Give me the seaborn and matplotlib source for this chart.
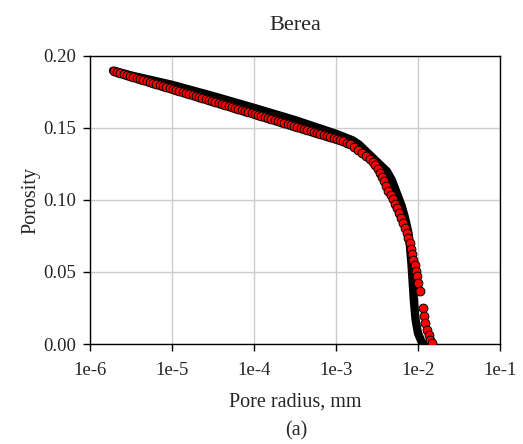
import numpy as np
import pandas as pd
import matplotlib
matplotlib.use("Agg")
import matplotlib.pyplot as plt
import seaborn as sns

# ---- data (log10 of pore radius in mm, porosity) ----
black_logr = [-5.72, -5.50, -5.00, -4.50, -4.00, -3.50, -3.00, -2.80, -2.72, -2.60,
              -2.50, -2.38, -2.32, -2.26, -2.20, -2.16, -2.12, -2.10, -2.08, -2.065,
              -2.05, -2.03, -2.00, -1.96, -1.93]
black_por = [0.1898, 0.1865, 0.1800, 0.1722, 0.1640, 0.1555, 0.1460, 0.1415, 0.1385, 0.1320,
             0.1265, 0.1200, 0.1140, 0.1050, 0.0960, 0.0880, 0.0780, 0.0690, 0.0560, 0.0430,
             0.0300, 0.0170, 0.0075, 0.0020, 0.0000]

red_logr = [-5.71, -5.67, -5.63, -5.59, -5.55, -5.51, -5.47, -5.43, -5.39, -5.35,
            -5.31, -5.27, -5.23, -5.19, -5.15, -5.11, -5.07, -5.03, -4.99, -4.95,
            -4.91, -4.87, -4.83, -4.79, -4.75, -4.71, -4.67, -4.63, -4.59, -4.55,
            -4.51, -4.47, -4.43, -4.39, -4.35, -4.31, -4.27, -4.23, -4.19, -4.15,
            -4.11, -4.07, -4.03, -3.99, -3.95, -3.91, -3.87, -3.83, -3.79, -3.75,
            -3.71, -3.67, -3.63, -3.59, -3.55, -3.51, -3.47, -3.43, -3.39, -3.35,
            -3.31, -3.27, -3.23, -3.19, -3.15, -3.11, -3.07, -3.03, -2.99, -2.95,
            -2.91, -2.87, -2.83,
            -2.78, -2.73, -2.68, -2.63, -2.59, -2.55, -2.52, -2.49, -2.46, -2.435,
            -2.41, -2.385, -2.36, -2.335, -2.31, -2.285, -2.26, -2.235, -2.21, -2.185,
            -2.16, -2.14, -2.12, -2.10, -2.085, -2.07, -2.055, -2.04, -2.025, -2.01,
            -1.995, -1.975, -1.945, -1.93, -1.915, -1.895, -1.87, -1.85, -1.835]
red_por = [0.1898, 0.1890, 0.1883, 0.1876, 0.1869, 0.1862, 0.1855, 0.1848, 0.1841, 0.1834,
           0.1827, 0.1820, 0.1813, 0.1806, 0.1799, 0.1792, 0.1785, 0.1778, 0.1771, 0.1764,
           0.1757, 0.1750, 0.1743, 0.1736, 0.1729, 0.1722, 0.1715, 0.1708, 0.1701, 0.1694,
           0.1687, 0.1680, 0.1673, 0.1666, 0.1659, 0.1652, 0.1645, 0.1638, 0.1631, 0.1624,
           0.1617, 0.1610, 0.1603, 0.1596, 0.1589, 0.1582, 0.1575, 0.1568, 0.1561, 0.1554,
           0.1547, 0.1540, 0.1533, 0.1526, 0.1519, 0.1512, 0.1505, 0.1498, 0.1491, 0.1484,
           0.1477, 0.1470, 0.1463, 0.1456, 0.1449, 0.1442, 0.1435, 0.1428, 0.1421, 0.1414,
           0.1407, 0.1399, 0.1390,
           0.1370, 0.1350, 0.1328, 0.1305, 0.1285, 0.1262, 0.1242, 0.1218, 0.1190, 0.1160,
           0.1130, 0.1095, 0.1065, 0.1035, 0.1005, 0.0975, 0.0945, 0.0912, 0.0878, 0.0843,
           0.0808, 0.0772, 0.0735, 0.0698, 0.0660, 0.0622, 0.0585, 0.0548, 0.0510, 0.0470,
           0.0425, 0.0365, 0.0250, 0.0195, 0.0145, 0.0095, 0.0060, 0.0030, 0.0005]

x_ticks = [1e-6, 1e-5, 1e-4, 1e-3, 1e-2, 1e-1]
x_tick_labels = ["1e-6", "1e-5", "1e-4", "1e-3", "1e-2", "1e-1"]
y_ticks = [0.00, 0.05, 0.10, 0.15, 0.20]
y_tick_labels = ["0.00", "0.05", "0.10", "0.15", "0.20"]

title = "Berea"
x_label = "Pore radius, mm"
y_label = "Porosity"
caption = "(a)"

# ---- styling ----
sns.set_style("white")
plt.rcParams["font.family"] = ["Liberation Serif", "DejaVu Serif"]

black_df = pd.DataFrame({"r": 10 ** np.array(black_logr), "phi": black_por})
red_df = pd.DataFrame({"r": 10 ** np.array(red_logr), "phi": red_por})

fig = plt.figure(figsize=(5.23, 4.44), dpi=100)
ax = fig.add_axes([90 / 523, 100 / 444, 410 / 523, 288 / 444])

sns.lineplot(data=black_df, x="r", y="phi", ax=ax, color="black", lw=6,
             sort=False, solid_capstyle="round", solid_joinstyle="round", zorder=3)
sns.scatterplot(data=red_df, x="r", y="phi", ax=ax, color="#ff0000", edgecolor="black",
                linewidth=0.7, s=40, zorder=4)

ax.set_xscale("log")
ax.set_xlim(1e-6, 1e-1)
ax.set_ylim(0, 0.20)
ax.set_xticks(x_ticks)
ax.set_xticklabels(x_tick_labels)
ax.set_yticks(y_ticks)
ax.set_yticklabels(y_tick_labels)
ax.xaxis.set_minor_locator(matplotlib.ticker.NullLocator())

ax.grid(True, color="#cccccc", lw=1.0)
ax.set_axisbelow(True)
for sp in ax.spines.values():
    sp.set_color("black")
    sp.set_linewidth(1.0)
    sp.set_visible(True)
ax.tick_params(axis="both", direction="out", length=5, width=1, color="black",
               labelsize=13.5, bottom=True, left=True)
ax.tick_params(axis="x", pad=8)
ax.tick_params(axis="y", pad=5)

ax.set_xlabel(x_label, fontsize=14.5, labelpad=10)
ax.set_ylabel(y_label, fontsize=14.5, labelpad=2)
ax.set_title(title, fontsize=16, pad=19)
fig.text(296 / 523, 1 - 431 / 444, caption, ha="center", va="center", fontsize=14.5)

fig.savefig("out.png", dpi=100)
